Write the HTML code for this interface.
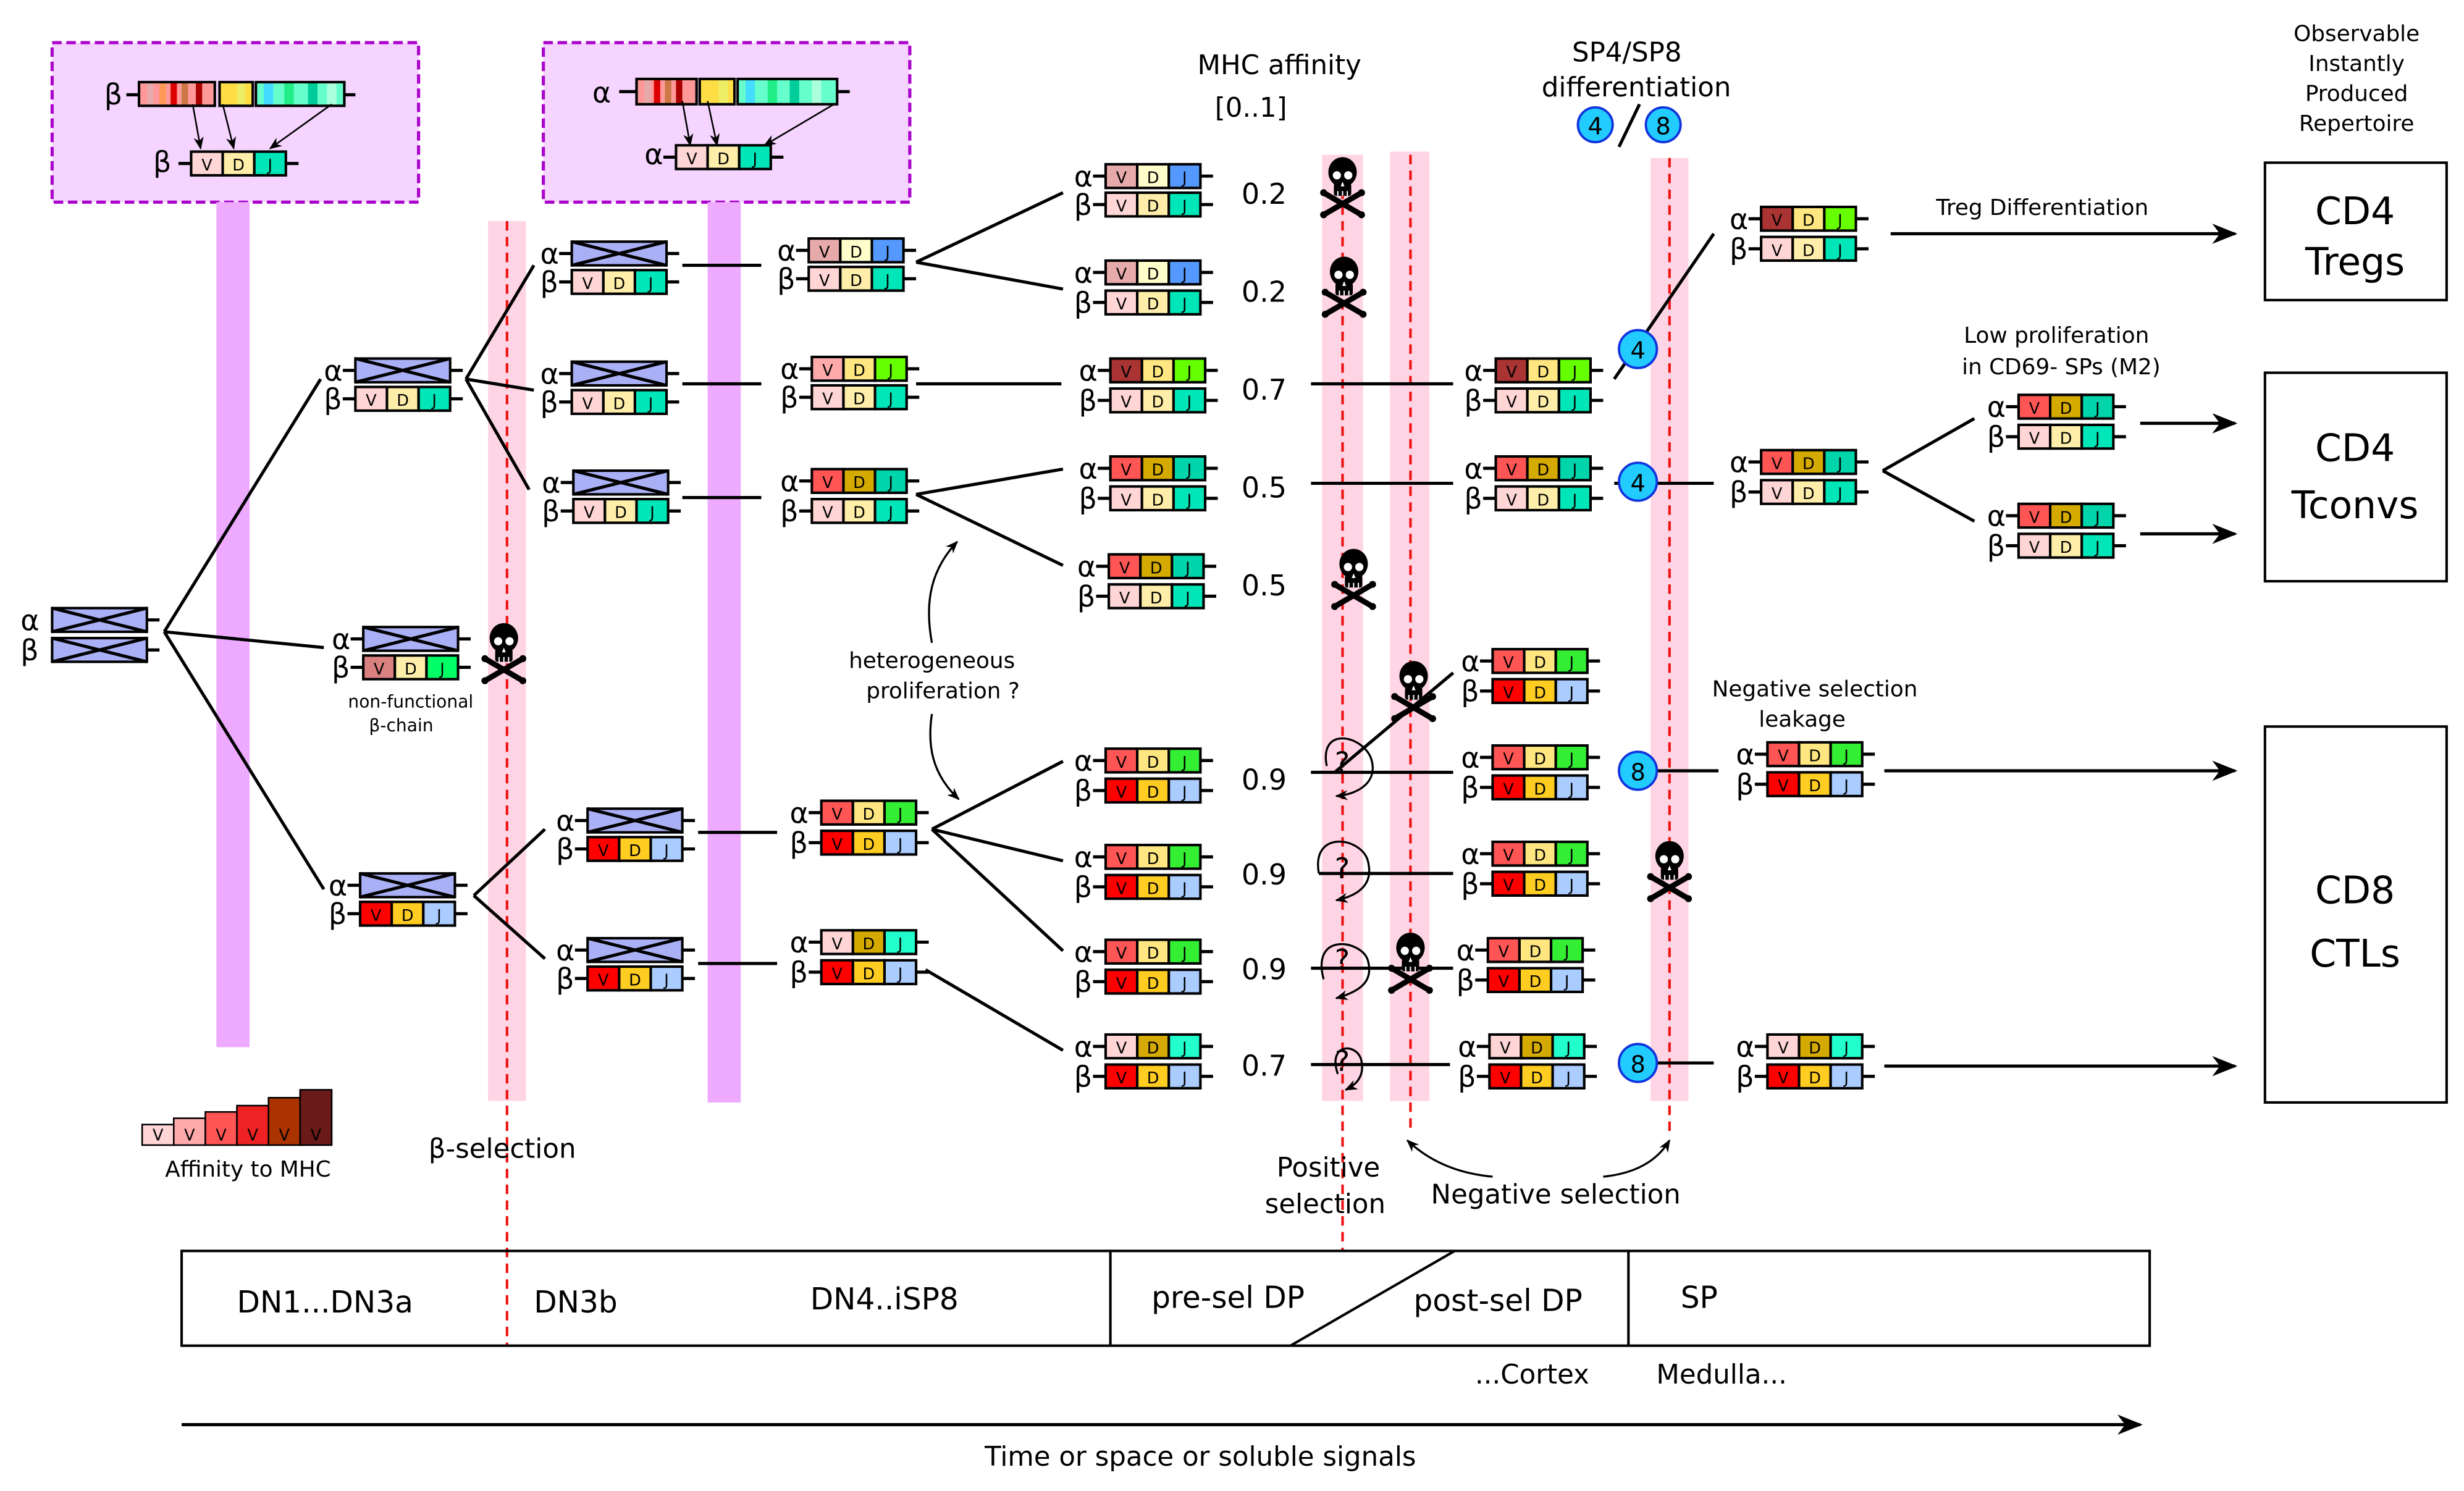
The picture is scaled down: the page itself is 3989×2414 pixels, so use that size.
<!DOCTYPE html>
<html><head><meta charset="utf-8"><style>
html,body{margin:0;padding:0;background:#fff}
svg{display:block}
text{font-family:"DejaVu Sans","Liberation Sans",sans-serif;fill:#000}
.s{width:20px;height:15px;stroke:#000;stroke-width:1.6}
.x{width:60px;height:15px;fill:#aab0f5;stroke:#000;stroke-width:1.6}
.t{stroke:#000;stroke-width:2;fill:none}
.l{font-size:10px;text-anchor:middle}
.g{font-size:18px}
.c{stroke:#000;stroke-width:2;fill:none}
.n{font-size:18px}
.ci{fill:#22ccff;stroke:#1133dd;stroke-width:1.5}
</style></head><body>
<svg width="3989" height="2414" viewBox="0 0 1560 944" preserveAspectRatio="none" xmlns="http://www.w3.org/2000/svg">
<defs>
<marker id="ar" viewBox="0 0 10 10" refX="9" refY="5" markerWidth="8" markerHeight="8" orient="auto-start-reverse" markerUnits="userSpaceOnUse"><path d="M0 1L10 5L0 9L3 5z" fill="#000"/></marker>
<marker id="ab" viewBox="0 0 10 10" refX="9" refY="5" markerWidth="22" markerHeight="16" orient="auto" markerUnits="userSpaceOnUse"><path d="M0 1L10 5L0 9L3 5z" fill="#000"/></marker>
<g id="sk">
<path d="M-12 4L12 18M-12 18L12 4" stroke="#000" stroke-width="3.5" stroke-linecap="round"/>
<circle cx="-12" cy="4" r="2.2"/><circle cx="12" cy="4" r="2.2"/><circle cx="-12" cy="18" r="2.2"/><circle cx="12" cy="18" r="2.2"/>
<ellipse cx="0" cy="-9" rx="9" ry="9.5"/>
<rect x="-5.5" y="-2" width="11" height="8" rx="1.5"/>
<circle cx="-3.6" cy="-7" r="2.6" fill="#fff"/><circle cx="3.6" cy="-7" r="2.6" fill="#fff"/>
<path d="M0 -3L-1.2 0H1.2z" fill="#fff"/>
<path d="M-3 3V6M0 3V6M3 3V6" stroke="#fff" stroke-width="0.8"/>
</g>
</defs>

<rect x="33" y="27" width="232" height="101" fill="#f5d5ff" stroke="#aa00cc" stroke-width="2" stroke-dasharray="6,3"/>
<rect x="344" y="27" width="232" height="101" fill="#f5d5ff" stroke="#aa00cc" stroke-width="2" stroke-dasharray="6,3"/>
<rect x="137" y="128" width="21" height="535" fill="#eeaaff"/>
<rect x="448" y="128" width="21" height="570" fill="#eeaaff"/>
<rect x="309" y="140" width="24" height="557" fill="#ffd5e5"/>
<rect x="837" y="98" width="26" height="599" fill="#ffd5e5"/>
<rect x="880" y="96" width="25" height="601" fill="#ffd5e5"/>
<rect x="1045" y="100" width="24" height="597" fill="#ffd5e5"/>
<g stroke="#ee1111" stroke-width="1.6" stroke-dasharray="6,4">
<line x1="321" y1="140" x2="321" y2="852"/>
<line x1="850" y1="100" x2="850" y2="792"/>
<line x1="893" y1="98" x2="893" y2="718"/>
<line x1="1057" y1="100" x2="1057" y2="720"/>
</g>

<text class="g" x="66" y="66">β</text>
<line class="t" x1="80" y1="60" x2="88" y2="60"/>
<g stroke="none">
<rect x="88" y="52" width="48" height="15" fill="#ff9999"/>
<rect x="93" y="52" width="4" height="15" fill="#e6aaaa"/><rect x="101" y="52" width="4" height="15" fill="#ff9955"/><rect x="108" y="52" width="4" height="15" fill="#dd0000"/><rect x="115" y="52" width="4" height="15" fill="#cc7744"/><rect x="124" y="52" width="4" height="15" fill="#aa0000"/>
<rect x="139" y="52" width="21" height="15" fill="#ffdd44"/><rect x="150" y="52" width="5" height="15" fill="#eeee66"/>
<rect x="162" y="52" width="56" height="15" fill="#66ffcc"/><rect x="167" y="52" width="6" height="15" fill="#44ddff"/><rect x="180" y="52" width="6" height="15" fill="#22ee88"/><rect x="195" y="52" width="6" height="15" fill="#00cc99"/><rect x="207" y="52" width="6" height="15" fill="#aaffdd"/>
</g>
<rect x="88" y="52" width="48" height="15" fill="none" stroke="#000" stroke-width="1.6"/><rect x="139" y="52" width="21" height="15" fill="none" stroke="#000" stroke-width="1.6"/><rect x="162" y="52" width="56" height="15" fill="none" stroke="#000" stroke-width="1.6"/>
<line class="t" x1="218" y1="60" x2="225" y2="60"/>
<g stroke="#000" stroke-width="1" marker-end="url(#ar)"><line x1="122" y1="66" x2="127" y2="94"/><line x1="141" y1="66" x2="148" y2="94"/><line x1="210" y1="66" x2="171" y2="94"/></g>
<text class="g" x="97" y="109">β</text>
<g transform="translate(121,96)"><path class="t" d="M-8 7.5H0M60 7.5H68"/><rect class="s" x="0" fill="#ffd5d5"/><rect class="s" x="20" fill="#ffeeaa"/><rect class="s" x="40" fill="#00e6b8"/><text class="l" x="10" y="12">V</text><text class="l" x="30" y="12">D</text><text class="l" x="50" y="12">J</text></g>

<text class="g" x="375" y="65">α</text>
<line class="t" x1="392" y1="58" x2="403" y2="58"/>
<g stroke="none">
<rect x="403" y="50" width="38" height="16" fill="#ff9999"/><rect x="408" y="50" width="4" height="16" fill="#e6aaaa"/><rect x="414" y="50" width="4" height="16" fill="#dd0000"/><rect x="421" y="50" width="4" height="16" fill="#cc7744"/><rect x="428" y="50" width="4" height="16" fill="#aa0000"/>
<rect x="443" y="50" width="22" height="16" fill="#ffdd44"/><rect x="455" y="50" width="6" height="16" fill="#eeee66"/>
<rect x="467" y="50" width="63" height="16" fill="#66ffcc"/><rect x="472" y="50" width="6" height="16" fill="#44ddff"/><rect x="486" y="50" width="6" height="16" fill="#22ee88"/><rect x="500" y="50" width="6" height="16" fill="#00cc99"/><rect x="514" y="50" width="6" height="16" fill="#aaffdd"/>
</g>
<rect x="403" y="50" width="38" height="16" fill="none" stroke="#000" stroke-width="1.6"/><rect x="443" y="50" width="22" height="16" fill="none" stroke="#000" stroke-width="1.6"/><rect x="467" y="50" width="63" height="16" fill="none" stroke="#000" stroke-width="1.6"/>
<line class="t" x1="530" y1="58" x2="538" y2="58"/>
<g stroke="#000" stroke-width="1" marker-end="url(#ar)"><line x1="432" y1="64" x2="437" y2="92"/><line x1="448" y1="64" x2="454" y2="92"/><line x1="528" y1="66" x2="484" y2="92"/></g>
<text class="g" x="408" y="104">α</text>
<g transform="translate(428,92)"><path class="t" d="M-8 7.5H0M60 7.5H68"/><rect class="s" x="0" fill="#ffd5d5"/><rect class="s" x="20" fill="#ffeeaa"/><rect class="s" x="40" fill="#00e6b8"/><text class="l" x="10" y="12">V</text><text class="l" x="30" y="12">D</text><text class="l" x="50" y="12">J</text></g>

<g class="c">
<path d="M104 400L203 240M104 400L205 410M104 400L205 563"/>
<path d="M295 240L338 168M295 240L338 247M295 240L335 310"/>
<path d="M300 567L345 525M300 567L345 607"/>
<path d="M432 168H482M432 243H482M432 315H482M442 527H492M442 610H492"/>
<path d="M580 166L673 122M580 166L673 183M580 243H672M580 313L673 297M580 313L673 358"/>
<path d="M590 525L673 482M590 525L673 545M590 525L673 602M586 614L673 665"/>
<path d="M830 243H920M830 306H920M830 489H920M845 489L920 426M835 553H920M830 613H920M830 674H918"/>
<path d="M1022 240L1085 148M1022 306H1085M1030 488H1088M1026 673H1085"/>
<path d="M1192 298L1250 265M1192 298L1250 330"/>
</g>
<g class="c" marker-end="url(#ab)">
<path d="M1197 148H1415"/><path d="M1193 488H1415"/><path d="M1193 675H1415"/><path d="M1355 268H1415"/><path d="M1355 338H1415"/>
</g>
<path d="M115 902H1355" class="c" marker-end="url(#ab)"/>
<g stroke="#000" stroke-width="1.3" fill="none" marker-end="url(#ar)">
<path d="M590 407C585 380 590 360 606 343"/>
<path d="M590 452C587 472 590 490 607 506"/>
<path d="M945 745Q912 742 891 722"/>
<path d="M1015 745Q1045 742 1057 722"/>
<path d="M840 485C835 460 862 465 868 480C873 495 860 503 846 504"/>
<path d="M835 553C830 525 862 530 866 545C870 560 860 567 846 570"/>
<path d="M838 620C830 590 862 595 866 608C870 622 860 628 846 632"/>
<path d="M847 680C840 660 860 660 862 672C864 682 858 687 852 690"/>
</g>
<g font-size="18"><text x="845" y="489">?</text><text x="845" y="556">?</text><text x="845" y="614">?</text><text x="845" y="678">?</text></g>

<g transform="translate(33,385)"><text class="g" x="-20" y="14">α</text><path class="t" d="M60 7.5H68"/><rect class="x"/><path class="t" d="M0 0L60 15M0 15L60 0"/></g>
<g transform="translate(33,404)"><text class="g" x="-20" y="14">β</text><path class="t" d="M60 7.5H68"/><rect class="x"/><path class="t" d="M0 0L60 15M0 15L60 0"/></g>

<g transform="translate(225,227)"><text class="g" x="-20" y="14">α</text><path class="t" d="M-8 7.5H0M60 7.5H68"/><rect class="x"/><path class="t" d="M0 0L60 15M0 15L60 0"/></g>
<g transform="translate(225,245)"><text class="g" x="-20" y="14">β</text><path class="t" d="M-8 7.5H0M60 7.5H68"/><rect class="s" x="0" fill="#ffd5d5"/><rect class="s" x="20" fill="#ffeeaa"/><rect class="s" x="40" fill="#00e6b8"/><text class="l" x="10" y="12">V</text><text class="l" x="30" y="12">D</text><text class="l" x="50" y="12">J</text></g>

<g transform="translate(230,397)"><text class="g" x="-20" y="14">α</text><path class="t" d="M-8 7.5H0M60 7.5H68"/><rect class="x"/><path class="t" d="M0 0L60 15M0 15L60 0"/></g>
<g transform="translate(230,415)"><text class="g" x="-20" y="14">β</text><path class="t" d="M-8 7.5H0M60 7.5H68"/><rect class="s" x="0" fill="#d98080"/><rect class="s" x="20" fill="#ffeeaa"/><rect class="s" x="40" fill="#00ff66"/><text class="l" x="10" y="12">V</text><text class="l" x="30" y="12">D</text><text class="l" x="50" y="12">J</text></g>
<text x="260" y="448" font-size="11" text-anchor="middle">non-functional</text>
<text x="254" y="463" font-size="11" text-anchor="middle">β-chain</text>

<g transform="translate(228,553)"><text class="g" x="-20" y="14">α</text><path class="t" d="M-8 7.5H0M60 7.5H68"/><rect class="x"/><path class="t" d="M0 0L60 15M0 15L60 0"/></g>
<g transform="translate(228,571)"><text class="g" x="-20" y="14">β</text><path class="t" d="M-8 7.5H0M60 7.5H68"/><rect class="s" x="0" fill="#ff0000"/><rect class="s" x="20" fill="#ffcc22"/><rect class="s" x="40" fill="#aaccff"/><text class="l" x="10" y="12">V</text><text class="l" x="30" y="12">D</text><text class="l" x="50" y="12">J</text></g>

<g transform="translate(362,153)"><text class="g" x="-20" y="14">α</text><path class="t" d="M-8 7.5H0M60 7.5H68"/><rect class="x"/><path class="t" d="M0 0L60 15M0 15L60 0"/></g>
<g transform="translate(362,171)"><text class="g" x="-20" y="14">β</text><path class="t" d="M-8 7.5H0M60 7.5H68"/><rect class="s" x="0" fill="#ffd5d5"/><rect class="s" x="20" fill="#ffeeaa"/><rect class="s" x="40" fill="#00e6b8"/><text class="l" x="10" y="12">V</text><text class="l" x="30" y="12">D</text><text class="l" x="50" y="12">J</text></g>
<g transform="translate(362,229)"><text class="g" x="-20" y="14">α</text><path class="t" d="M-8 7.5H0M60 7.5H68"/><rect class="x"/><path class="t" d="M0 0L60 15M0 15L60 0"/></g>
<g transform="translate(362,247)"><text class="g" x="-20" y="14">β</text><path class="t" d="M-8 7.5H0M60 7.5H68"/><rect class="s" x="0" fill="#ffd5d5"/><rect class="s" x="20" fill="#ffeeaa"/><rect class="s" x="40" fill="#00e6b8"/><text class="l" x="10" y="12">V</text><text class="l" x="30" y="12">D</text><text class="l" x="50" y="12">J</text></g>
<g transform="translate(363,298)"><text class="g" x="-20" y="14">α</text><path class="t" d="M-8 7.5H0M60 7.5H68"/><rect class="x"/><path class="t" d="M0 0L60 15M0 15L60 0"/></g>
<g transform="translate(363,316)"><text class="g" x="-20" y="14">β</text><path class="t" d="M-8 7.5H0M60 7.5H68"/><rect class="s" x="0" fill="#ffd5d5"/><rect class="s" x="20" fill="#ffeeaa"/><rect class="s" x="40" fill="#00e6b8"/><text class="l" x="10" y="12">V</text><text class="l" x="30" y="12">D</text><text class="l" x="50" y="12">J</text></g>
<g transform="translate(372,512)"><text class="g" x="-20" y="14">α</text><path class="t" d="M-8 7.5H0M60 7.5H68"/><rect class="x"/><path class="t" d="M0 0L60 15M0 15L60 0"/></g>
<g transform="translate(372,530)"><text class="g" x="-20" y="14">β</text><path class="t" d="M-8 7.5H0M60 7.5H68"/><rect class="s" x="0" fill="#ff0000"/><rect class="s" x="20" fill="#ffcc22"/><rect class="s" x="40" fill="#aaccff"/><text class="l" x="10" y="12">V</text><text class="l" x="30" y="12">D</text><text class="l" x="50" y="12">J</text></g>
<g transform="translate(372,594)"><text class="g" x="-20" y="14">α</text><path class="t" d="M-8 7.5H0M60 7.5H68"/><rect class="x"/><path class="t" d="M0 0L60 15M0 15L60 0"/></g>
<g transform="translate(372,612)"><text class="g" x="-20" y="14">β</text><path class="t" d="M-8 7.5H0M60 7.5H68"/><rect class="s" x="0" fill="#ff0000"/><rect class="s" x="20" fill="#ffcc22"/><rect class="s" x="40" fill="#aaccff"/><text class="l" x="10" y="12">V</text><text class="l" x="30" y="12">D</text><text class="l" x="50" y="12">J</text></g>

<g transform="translate(512,151)"><text class="g" x="-20" y="14">α</text><path class="t" d="M-8 7.5H0M60 7.5H68"/><rect class="s" x="0" fill="#e6aaaa"/><rect class="s" x="20" fill="#ffffcc"/><rect class="s" x="40" fill="#5599ff"/><text class="l" x="10" y="12">V</text><text class="l" x="30" y="12">D</text><text class="l" x="50" y="12">J</text></g>
<g transform="translate(512,169)"><text class="g" x="-20" y="14">β</text><path class="t" d="M-8 7.5H0M60 7.5H68"/><rect class="s" x="0" fill="#ffd5d5"/><rect class="s" x="20" fill="#ffeeaa"/><rect class="s" x="40" fill="#00e6b8"/><text class="l" x="10" y="12">V</text><text class="l" x="30" y="12">D</text><text class="l" x="50" y="12">J</text></g>
<g transform="translate(514,226)"><text class="g" x="-20" y="14">α</text><path class="t" d="M-8 7.5H0M60 7.5H68"/><rect class="s" x="0" fill="#ffaaaa"/><rect class="s" x="20" fill="#ffe680"/><rect class="s" x="40" fill="#66ff00"/><text class="l" x="10" y="12">V</text><text class="l" x="30" y="12">D</text><text class="l" x="50" y="12">J</text></g>
<g transform="translate(514,244)"><text class="g" x="-20" y="14">β</text><path class="t" d="M-8 7.5H0M60 7.5H68"/><rect class="s" x="0" fill="#ffd5d5"/><rect class="s" x="20" fill="#ffeeaa"/><rect class="s" x="40" fill="#00e6b8"/><text class="l" x="10" y="12">V</text><text class="l" x="30" y="12">D</text><text class="l" x="50" y="12">J</text></g>
<g transform="translate(514,297)"><text class="g" x="-20" y="14">α</text><path class="t" d="M-8 7.5H0M60 7.5H68"/><rect class="s" x="0" fill="#ff5555"/><rect class="s" x="20" fill="#d4aa00"/><rect class="s" x="40" fill="#00d4aa"/><text class="l" x="10" y="12">V</text><text class="l" x="30" y="12">D</text><text class="l" x="50" y="12">J</text></g>
<g transform="translate(514,316)"><text class="g" x="-20" y="14">β</text><path class="t" d="M-8 7.5H0M60 7.5H68"/><rect class="s" x="0" fill="#ffd5d5"/><rect class="s" x="20" fill="#ffeeaa"/><rect class="s" x="40" fill="#00e6b8"/><text class="l" x="10" y="12">V</text><text class="l" x="30" y="12">D</text><text class="l" x="50" y="12">J</text></g>
<g transform="translate(520,507)"><text class="g" x="-20" y="14">α</text><path class="t" d="M-8 7.5H0M60 7.5H68"/><rect class="s" x="0" fill="#ff5555"/><rect class="s" x="20" fill="#ffe680"/><rect class="s" x="40" fill="#33ee33"/><text class="l" x="10" y="12">V</text><text class="l" x="30" y="12">D</text><text class="l" x="50" y="12">J</text></g>
<g transform="translate(520,526)"><text class="g" x="-20" y="14">β</text><path class="t" d="M-8 7.5H0M60 7.5H68"/><rect class="s" x="0" fill="#ff0000"/><rect class="s" x="20" fill="#ffcc22"/><rect class="s" x="40" fill="#aaccff"/><text class="l" x="10" y="12">V</text><text class="l" x="30" y="12">D</text><text class="l" x="50" y="12">J</text></g>
<g transform="translate(520,589)"><text class="g" x="-20" y="14">α</text><path class="t" d="M-8 7.5H0M60 7.5H68"/><rect class="s" x="0" fill="#ffd5d5"/><rect class="s" x="20" fill="#d4aa00"/><rect class="s" x="40" fill="#22ffcc"/><text class="l" x="10" y="12">V</text><text class="l" x="30" y="12">D</text><text class="l" x="50" y="12">J</text></g>
<g transform="translate(520,608)"><text class="g" x="-20" y="14">β</text><path class="t" d="M-8 7.5H0M60 7.5H68"/><rect class="s" x="0" fill="#ff0000"/><rect class="s" x="20" fill="#ffcc22"/><rect class="s" x="40" fill="#aaccff"/><text class="l" x="10" y="12">V</text><text class="l" x="30" y="12">D</text><text class="l" x="50" y="12">J</text></g>

<g transform="translate(700,104)"><text class="g" x="-20" y="14">α</text><path class="t" d="M-8 7.5H0M60 7.5H68"/><rect class="s" x="0" fill="#e6aaaa"/><rect class="s" x="20" fill="#ffffcc"/><rect class="s" x="40" fill="#5599ff"/><text class="l" x="10" y="12">V</text><text class="l" x="30" y="12">D</text><text class="l" x="50" y="12">J</text></g>
<g transform="translate(700,122)"><text class="g" x="-20" y="14">β</text><path class="t" d="M-8 7.5H0M60 7.5H68"/><rect class="s" x="0" fill="#ffd5d5"/><rect class="s" x="20" fill="#ffeeaa"/><rect class="s" x="40" fill="#00e6b8"/><text class="l" x="10" y="12">V</text><text class="l" x="30" y="12">D</text><text class="l" x="50" y="12">J</text></g>
<g transform="translate(700,165)"><text class="g" x="-20" y="14">α</text><path class="t" d="M-8 7.5H0M60 7.5H68"/><rect class="s" x="0" fill="#e6aaaa"/><rect class="s" x="20" fill="#ffffcc"/><rect class="s" x="40" fill="#5599ff"/><text class="l" x="10" y="12">V</text><text class="l" x="30" y="12">D</text><text class="l" x="50" y="12">J</text></g>
<g transform="translate(700,184)"><text class="g" x="-20" y="14">β</text><path class="t" d="M-8 7.5H0M60 7.5H68"/><rect class="s" x="0" fill="#ffd5d5"/><rect class="s" x="20" fill="#ffeeaa"/><rect class="s" x="40" fill="#00e6b8"/><text class="l" x="10" y="12">V</text><text class="l" x="30" y="12">D</text><text class="l" x="50" y="12">J</text></g>
<g transform="translate(703,227)"><text class="g" x="-20" y="14">α</text><path class="t" d="M-8 7.5H0M60 7.5H68"/><rect class="s" x="0" fill="#aa3333"/><rect class="s" x="20" fill="#ffe680"/><rect class="s" x="40" fill="#66ff00"/><text class="l" x="10" y="12">V</text><text class="l" x="30" y="12">D</text><text class="l" x="50" y="12">J</text></g>
<g transform="translate(703,246)"><text class="g" x="-20" y="14">β</text><path class="t" d="M-8 7.5H0M60 7.5H68"/><rect class="s" x="0" fill="#ffd5d5"/><rect class="s" x="20" fill="#ffeeaa"/><rect class="s" x="40" fill="#00e6b8"/><text class="l" x="10" y="12">V</text><text class="l" x="30" y="12">D</text><text class="l" x="50" y="12">J</text></g>
<g transform="translate(703,289)"><text class="g" x="-20" y="14">α</text><path class="t" d="M-8 7.5H0M60 7.5H68"/><rect class="s" x="0" fill="#ff5555"/><rect class="s" x="20" fill="#d4aa00"/><rect class="s" x="40" fill="#00d4aa"/><text class="l" x="10" y="12">V</text><text class="l" x="30" y="12">D</text><text class="l" x="50" y="12">J</text></g>
<g transform="translate(703,308)"><text class="g" x="-20" y="14">β</text><path class="t" d="M-8 7.5H0M60 7.5H68"/><rect class="s" x="0" fill="#ffd5d5"/><rect class="s" x="20" fill="#ffeeaa"/><rect class="s" x="40" fill="#00e6b8"/><text class="l" x="10" y="12">V</text><text class="l" x="30" y="12">D</text><text class="l" x="50" y="12">J</text></g>
<g transform="translate(702,351)"><text class="g" x="-20" y="14">α</text><path class="t" d="M-8 7.5H0M60 7.5H68"/><rect class="s" x="0" fill="#ff5555"/><rect class="s" x="20" fill="#d4aa00"/><rect class="s" x="40" fill="#00d4aa"/><text class="l" x="10" y="12">V</text><text class="l" x="30" y="12">D</text><text class="l" x="50" y="12">J</text></g>
<g transform="translate(702,370)"><text class="g" x="-20" y="14">β</text><path class="t" d="M-8 7.5H0M60 7.5H68"/><rect class="s" x="0" fill="#ffd5d5"/><rect class="s" x="20" fill="#ffeeaa"/><rect class="s" x="40" fill="#00e6b8"/><text class="l" x="10" y="12">V</text><text class="l" x="30" y="12">D</text><text class="l" x="50" y="12">J</text></g>
<g transform="translate(700,474)"><text class="g" x="-20" y="14">α</text><path class="t" d="M-8 7.5H0M60 7.5H68"/><rect class="s" x="0" fill="#ff5555"/><rect class="s" x="20" fill="#ffe680"/><rect class="s" x="40" fill="#33ee33"/><text class="l" x="10" y="12">V</text><text class="l" x="30" y="12">D</text><text class="l" x="50" y="12">J</text></g>
<g transform="translate(700,493)"><text class="g" x="-20" y="14">β</text><path class="t" d="M-8 7.5H0M60 7.5H68"/><rect class="s" x="0" fill="#ff0000"/><rect class="s" x="20" fill="#ffcc22"/><rect class="s" x="40" fill="#aaccff"/><text class="l" x="10" y="12">V</text><text class="l" x="30" y="12">D</text><text class="l" x="50" y="12">J</text></g>
<g transform="translate(700,535)"><text class="g" x="-20" y="14">α</text><path class="t" d="M-8 7.5H0M60 7.5H68"/><rect class="s" x="0" fill="#ff5555"/><rect class="s" x="20" fill="#ffe680"/><rect class="s" x="40" fill="#33ee33"/><text class="l" x="10" y="12">V</text><text class="l" x="30" y="12">D</text><text class="l" x="50" y="12">J</text></g>
<g transform="translate(700,554)"><text class="g" x="-20" y="14">β</text><path class="t" d="M-8 7.5H0M60 7.5H68"/><rect class="s" x="0" fill="#ff0000"/><rect class="s" x="20" fill="#ffcc22"/><rect class="s" x="40" fill="#aaccff"/><text class="l" x="10" y="12">V</text><text class="l" x="30" y="12">D</text><text class="l" x="50" y="12">J</text></g>
<g transform="translate(700,595)"><text class="g" x="-20" y="14">α</text><path class="t" d="M-8 7.5H0M60 7.5H68"/><rect class="s" x="0" fill="#ff5555"/><rect class="s" x="20" fill="#ffe680"/><rect class="s" x="40" fill="#33ee33"/><text class="l" x="10" y="12">V</text><text class="l" x="30" y="12">D</text><text class="l" x="50" y="12">J</text></g>
<g transform="translate(700,614)"><text class="g" x="-20" y="14">β</text><path class="t" d="M-8 7.5H0M60 7.5H68"/><rect class="s" x="0" fill="#ff0000"/><rect class="s" x="20" fill="#ffcc22"/><rect class="s" x="40" fill="#aaccff"/><text class="l" x="10" y="12">V</text><text class="l" x="30" y="12">D</text><text class="l" x="50" y="12">J</text></g>
<g transform="translate(700,655)"><text class="g" x="-20" y="14">α</text><path class="t" d="M-8 7.5H0M60 7.5H68"/><rect class="s" x="0" fill="#ffd5d5"/><rect class="s" x="20" fill="#d4aa00"/><rect class="s" x="40" fill="#22ffcc"/><text class="l" x="10" y="12">V</text><text class="l" x="30" y="12">D</text><text class="l" x="50" y="12">J</text></g>
<g transform="translate(700,674)"><text class="g" x="-20" y="14">β</text><path class="t" d="M-8 7.5H0M60 7.5H68"/><rect class="s" x="0" fill="#ff0000"/><rect class="s" x="20" fill="#ffcc22"/><rect class="s" x="40" fill="#aaccff"/><text class="l" x="10" y="12">V</text><text class="l" x="30" y="12">D</text><text class="l" x="50" y="12">J</text></g>

<g class="n"><text x="786" y="129">0.2</text><text x="786" y="191">0.2</text><text x="786" y="253">0.7</text><text x="786" y="315">0.5</text><text x="786" y="377">0.5</text><text x="786" y="500">0.9</text><text x="786" y="560">0.9</text><text x="786" y="620">0.9</text><text x="786" y="681">0.7</text></g>

<g transform="translate(947,227)"><text class="g" x="-20" y="14">α</text><path class="t" d="M-8 7.5H0M60 7.5H68"/><rect class="s" x="0" fill="#aa3333"/><rect class="s" x="20" fill="#ffe680"/><rect class="s" x="40" fill="#66ff00"/><text class="l" x="10" y="12">V</text><text class="l" x="30" y="12">D</text><text class="l" x="50" y="12">J</text></g>
<g transform="translate(947,246)"><text class="g" x="-20" y="14">β</text><path class="t" d="M-8 7.5H0M60 7.5H68"/><rect class="s" x="0" fill="#ffd5d5"/><rect class="s" x="20" fill="#ffeeaa"/><rect class="s" x="40" fill="#00e6b8"/><text class="l" x="10" y="12">V</text><text class="l" x="30" y="12">D</text><text class="l" x="50" y="12">J</text></g>
<g transform="translate(947,289)"><text class="g" x="-20" y="14">α</text><path class="t" d="M-8 7.5H0M60 7.5H68"/><rect class="s" x="0" fill="#ff5555"/><rect class="s" x="20" fill="#d4aa00"/><rect class="s" x="40" fill="#00d4aa"/><text class="l" x="10" y="12">V</text><text class="l" x="30" y="12">D</text><text class="l" x="50" y="12">J</text></g>
<g transform="translate(947,308)"><text class="g" x="-20" y="14">β</text><path class="t" d="M-8 7.5H0M60 7.5H68"/><rect class="s" x="0" fill="#ffd5d5"/><rect class="s" x="20" fill="#ffeeaa"/><rect class="s" x="40" fill="#00e6b8"/><text class="l" x="10" y="12">V</text><text class="l" x="30" y="12">D</text><text class="l" x="50" y="12">J</text></g>
<g transform="translate(945,411)"><text class="g" x="-20" y="14">α</text><path class="t" d="M-8 7.5H0M60 7.5H68"/><rect class="s" x="0" fill="#ff5555"/><rect class="s" x="20" fill="#ffe680"/><rect class="s" x="40" fill="#33ee33"/><text class="l" x="10" y="12">V</text><text class="l" x="30" y="12">D</text><text class="l" x="50" y="12">J</text></g>
<g transform="translate(945,430)"><text class="g" x="-20" y="14">β</text><path class="t" d="M-8 7.5H0M60 7.5H68"/><rect class="s" x="0" fill="#ff0000"/><rect class="s" x="20" fill="#ffcc22"/><rect class="s" x="40" fill="#aaccff"/><text class="l" x="10" y="12">V</text><text class="l" x="30" y="12">D</text><text class="l" x="50" y="12">J</text></g>
<g transform="translate(945,472)"><text class="g" x="-20" y="14">α</text><path class="t" d="M-8 7.5H0M60 7.5H68"/><rect class="s" x="0" fill="#ff5555"/><rect class="s" x="20" fill="#ffe680"/><rect class="s" x="40" fill="#33ee33"/><text class="l" x="10" y="12">V</text><text class="l" x="30" y="12">D</text><text class="l" x="50" y="12">J</text></g>
<g transform="translate(945,491)"><text class="g" x="-20" y="14">β</text><path class="t" d="M-8 7.5H0M60 7.5H68"/><rect class="s" x="0" fill="#ff0000"/><rect class="s" x="20" fill="#ffcc22"/><rect class="s" x="40" fill="#aaccff"/><text class="l" x="10" y="12">V</text><text class="l" x="30" y="12">D</text><text class="l" x="50" y="12">J</text></g>
<g transform="translate(945,533)"><text class="g" x="-20" y="14">α</text><path class="t" d="M-8 7.5H0M60 7.5H68"/><rect class="s" x="0" fill="#ff5555"/><rect class="s" x="20" fill="#ffe680"/><rect class="s" x="40" fill="#33ee33"/><text class="l" x="10" y="12">V</text><text class="l" x="30" y="12">D</text><text class="l" x="50" y="12">J</text></g>
<g transform="translate(945,552)"><text class="g" x="-20" y="14">β</text><path class="t" d="M-8 7.5H0M60 7.5H68"/><rect class="s" x="0" fill="#ff0000"/><rect class="s" x="20" fill="#ffcc22"/><rect class="s" x="40" fill="#aaccff"/><text class="l" x="10" y="12">V</text><text class="l" x="30" y="12">D</text><text class="l" x="50" y="12">J</text></g>
<g transform="translate(942,594)"><text class="g" x="-20" y="14">α</text><path class="t" d="M-8 7.5H0M60 7.5H68"/><rect class="s" x="0" fill="#ff5555"/><rect class="s" x="20" fill="#ffe680"/><rect class="s" x="40" fill="#33ee33"/><text class="l" x="10" y="12">V</text><text class="l" x="30" y="12">D</text><text class="l" x="50" y="12">J</text></g>
<g transform="translate(942,613)"><text class="g" x="-20" y="14">β</text><path class="t" d="M-8 7.5H0M60 7.5H68"/><rect class="s" x="0" fill="#ff0000"/><rect class="s" x="20" fill="#ffcc22"/><rect class="s" x="40" fill="#aaccff"/><text class="l" x="10" y="12">V</text><text class="l" x="30" y="12">D</text><text class="l" x="50" y="12">J</text></g>
<g transform="translate(943,655)"><text class="g" x="-20" y="14">α</text><path class="t" d="M-8 7.5H0M60 7.5H68"/><rect class="s" x="0" fill="#ffd5d5"/><rect class="s" x="20" fill="#d4aa00"/><rect class="s" x="40" fill="#22ffcc"/><text class="l" x="10" y="12">V</text><text class="l" x="30" y="12">D</text><text class="l" x="50" y="12">J</text></g>
<g transform="translate(943,674)"><text class="g" x="-20" y="14">β</text><path class="t" d="M-8 7.5H0M60 7.5H68"/><rect class="s" x="0" fill="#ff0000"/><rect class="s" x="20" fill="#ffcc22"/><rect class="s" x="40" fill="#aaccff"/><text class="l" x="10" y="12">V</text><text class="l" x="30" y="12">D</text><text class="l" x="50" y="12">J</text></g>

<g transform="translate(1115,131)"><text class="g" x="-20" y="14">α</text><path class="t" d="M-8 7.5H0M60 7.5H68"/><rect class="s" x="0" fill="#aa3333"/><rect class="s" x="20" fill="#ffe680"/><rect class="s" x="40" fill="#66ff00"/><text class="l" x="10" y="12">V</text><text class="l" x="30" y="12">D</text><text class="l" x="50" y="12">J</text></g>
<g transform="translate(1115,150)"><text class="g" x="-20" y="14">β</text><path class="t" d="M-8 7.5H0M60 7.5H68"/><rect class="s" x="0" fill="#ffd5d5"/><rect class="s" x="20" fill="#ffeeaa"/><rect class="s" x="40" fill="#00e6b8"/><text class="l" x="10" y="12">V</text><text class="l" x="30" y="12">D</text><text class="l" x="50" y="12">J</text></g>
<g transform="translate(1115,285)"><text class="g" x="-20" y="14">α</text><path class="t" d="M-8 7.5H0M60 7.5H68"/><rect class="s" x="0" fill="#ff5555"/><rect class="s" x="20" fill="#d4aa00"/><rect class="s" x="40" fill="#00d4aa"/><text class="l" x="10" y="12">V</text><text class="l" x="30" y="12">D</text><text class="l" x="50" y="12">J</text></g>
<g transform="translate(1115,304)"><text class="g" x="-20" y="14">β</text><path class="t" d="M-8 7.5H0M60 7.5H68"/><rect class="s" x="0" fill="#ffd5d5"/><rect class="s" x="20" fill="#ffeeaa"/><rect class="s" x="40" fill="#00e6b8"/><text class="l" x="10" y="12">V</text><text class="l" x="30" y="12">D</text><text class="l" x="50" y="12">J</text></g>
<g transform="translate(1119,470)"><text class="g" x="-20" y="14">α</text><path class="t" d="M-8 7.5H0M60 7.5H68"/><rect class="s" x="0" fill="#ff5555"/><rect class="s" x="20" fill="#ffe680"/><rect class="s" x="40" fill="#33ee33"/><text class="l" x="10" y="12">V</text><text class="l" x="30" y="12">D</text><text class="l" x="50" y="12">J</text></g>
<g transform="translate(1119,489)"><text class="g" x="-20" y="14">β</text><path class="t" d="M-8 7.5H0M60 7.5H68"/><rect class="s" x="0" fill="#ff0000"/><rect class="s" x="20" fill="#ffcc22"/><rect class="s" x="40" fill="#aaccff"/><text class="l" x="10" y="12">V</text><text class="l" x="30" y="12">D</text><text class="l" x="50" y="12">J</text></g>
<g transform="translate(1119,655)"><text class="g" x="-20" y="14">α</text><path class="t" d="M-8 7.5H0M60 7.5H68"/><rect class="s" x="0" fill="#ffd5d5"/><rect class="s" x="20" fill="#d4aa00"/><rect class="s" x="40" fill="#22ffcc"/><text class="l" x="10" y="12">V</text><text class="l" x="30" y="12">D</text><text class="l" x="50" y="12">J</text></g>
<g transform="translate(1119,674)"><text class="g" x="-20" y="14">β</text><path class="t" d="M-8 7.5H0M60 7.5H68"/><rect class="s" x="0" fill="#ff0000"/><rect class="s" x="20" fill="#ffcc22"/><rect class="s" x="40" fill="#aaccff"/><text class="l" x="10" y="12">V</text><text class="l" x="30" y="12">D</text><text class="l" x="50" y="12">J</text></g>

<g transform="translate(1278,250)"><text class="g" x="-20" y="14">α</text><path class="t" d="M-8 7.5H0M60 7.5H68"/><rect class="s" x="0" fill="#ff5555"/><rect class="s" x="20" fill="#d4aa00"/><rect class="s" x="40" fill="#00d4aa"/><text class="l" x="10" y="12">V</text><text class="l" x="30" y="12">D</text><text class="l" x="50" y="12">J</text></g>
<g transform="translate(1278,269)"><text class="g" x="-20" y="14">β</text><path class="t" d="M-8 7.5H0M60 7.5H68"/><rect class="s" x="0" fill="#ffd5d5"/><rect class="s" x="20" fill="#ffeeaa"/><rect class="s" x="40" fill="#00e6b8"/><text class="l" x="10" y="12">V</text><text class="l" x="30" y="12">D</text><text class="l" x="50" y="12">J</text></g>
<g transform="translate(1278,319)"><text class="g" x="-20" y="14">α</text><path class="t" d="M-8 7.5H0M60 7.5H68"/><rect class="s" x="0" fill="#ff5555"/><rect class="s" x="20" fill="#d4aa00"/><rect class="s" x="40" fill="#00d4aa"/><text class="l" x="10" y="12">V</text><text class="l" x="30" y="12">D</text><text class="l" x="50" y="12">J</text></g>
<g transform="translate(1278,338)"><text class="g" x="-20" y="14">β</text><path class="t" d="M-8 7.5H0M60 7.5H68"/><rect class="s" x="0" fill="#ffd5d5"/><rect class="s" x="20" fill="#ffeeaa"/><rect class="s" x="40" fill="#00e6b8"/><text class="l" x="10" y="12">V</text><text class="l" x="30" y="12">D</text><text class="l" x="50" y="12">J</text></g>

<g font-size="15" text-anchor="middle">
<circle class="ci" cx="1010" cy="79" r="11"/><text x="1010" y="85">4</text>
<circle class="ci" cx="1053" cy="79" r="11"/><text x="1053" y="85">8</text>
<line x1="1025" y1="93" x2="1038" y2="66" stroke="#000" stroke-width="2"/>
<circle class="ci" cx="1037" cy="221" r="12"/><text x="1037" y="227">4</text>
<circle class="ci" cx="1037" cy="305" r="12"/><text x="1037" y="311">4</text>
<circle class="ci" cx="1037" cy="488" r="12"/><text x="1037" y="494">8</text>
<circle class="ci" cx="1037" cy="673" r="12"/><text x="1037" y="679">8</text>
</g>

<use href="#sk" x="319" y="413"/>
<use href="#sk" x="850" y="118"/>
<use href="#sk" x="851" y="181"/>
<use href="#sk" x="857" y="366"/>
<use href="#sk" x="895" y="437"/>
<use href="#sk" x="1057" y="551"/>
<use href="#sk" x="893" y="609"/>

<g fill="#fff" stroke="#000" stroke-width="1.6">
<rect x="1434" y="103" width="115" height="87"/><rect x="1434" y="236" width="115" height="132"/><rect x="1434" y="460" width="115" height="238"/>
</g>
<g font-size="24" text-anchor="middle">
<text x="1491" y="142">CD4</text><text x="1491" y="174">Tregs</text>
<text x="1491" y="292">CD4</text><text x="1491" y="328">Tconvs</text>
<text x="1491" y="572">CD8</text><text x="1491" y="612">CTLs</text>
</g>

<g font-size="14" text-anchor="middle">
<text x="1492" y="26">Observable</text><text x="1492" y="45">Instantly</text><text x="1492" y="64">Produced</text><text x="1492" y="83">Repertoire</text>
<text x="1293" y="136">Treg Differentiation</text>
<text x="1302" y="217">Low proliferation</text><text x="1305" y="237">in CD69- SPs (M2)</text>
<text x="1149" y="441">Negative selection</text><text x="1141" y="460">leakage</text>
<text x="590" y="423">heterogeneous</text><text x="597" y="442">proliferation ?</text>
</g>
<g font-size="17" text-anchor="middle">
<text x="810" y="47">MHC affinity</text><text x="792" y="74">[0..1]</text>
<text x="1030" y="39">SP4/SP8</text><text x="1036" y="61">differentiation</text>
<text x="318" y="733">β-selection</text>
<text x="841" y="745">Positive</text><text x="839" y="768">selection</text>
<text x="985" y="762">Negative selection</text>
<text x="970" y="876">...Cortex</text><text x="1090" y="876">Medulla...</text>
<text x="760" y="928">Time or space or soluble signals</text>
</g>

<g stroke="#000" stroke-width="1">
<rect x="90" y="712" width="20" height="13" fill="#ffd5d5"/>
<rect x="110" y="708" width="20" height="17" fill="#ffaaaa"/>
<rect x="130" y="704" width="20" height="21" fill="#ff5555"/>
<rect x="150" y="700" width="20" height="25" fill="#ee2222"/>
<rect x="170" y="695" width="20" height="30" fill="#aa3300"/>
<rect x="190" y="690" width="20" height="35" fill="#6b1a1a"/>
</g>
<g class="l"><text x="100" y="722">V</text><text x="120" y="722">V</text><text x="140" y="722">V</text><text x="160" y="722">V</text><text x="180" y="722">V</text><text x="200" y="722">V</text></g>
<text x="157" y="745" font-size="14" text-anchor="middle">Affinity to MHC</text>

<rect x="115" y="792" width="1246" height="60" fill="none" stroke="#000" stroke-width="1.6"/>
<line x1="703" y1="792" x2="703" y2="852" stroke="#000" stroke-width="1.6"/>
<line x1="1031" y1="792" x2="1031" y2="852" stroke="#000" stroke-width="1.6"/>
<line x1="817" y1="852" x2="921" y2="792" stroke="#000" stroke-width="1.6"/>
<g font-size="19">
<text x="150" y="831">DN1...DN3a</text><text x="338" y="831">DN3b</text><text x="513" y="829">DN4..iSP8</text>
<text x="729" y="828">pre-sel DP</text><text x="895" y="830">post-sel DP</text><text x="1064" y="828">SP</text>
</g>
</svg>
</body></html>
